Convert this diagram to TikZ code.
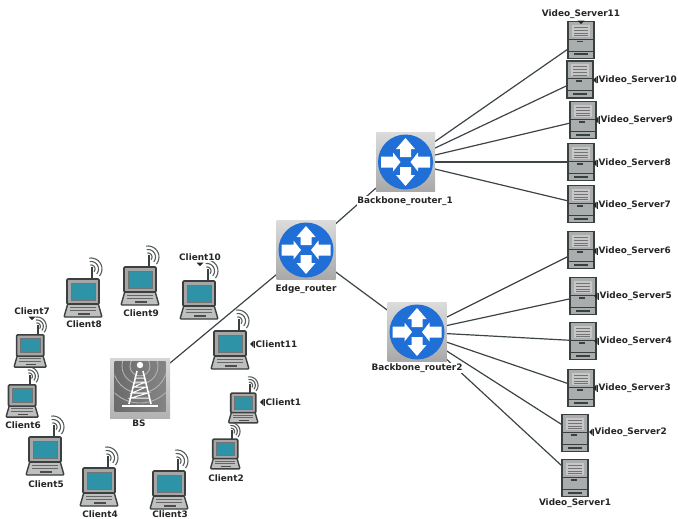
\documentclass[tikz,border=0pt]{standalone}
\usepackage{fontspec}
\setmainfont{DejaVu Sans}
\definecolor{rblue}{HTML}{1F6FD6}
\definecolor{rline}{HTML}{3C4448}
\definecolor{sdark}{HTML}{3A3F40}
\definecolor{sgray}{HTML}{A9ADAE}
\definecolor{teal1}{HTML}{2F93A8}
\tikzset{
  x=1pt,y=-1pt,
  lab/.style={font=\bfseries\fontsize{8.9}{10}\selectfont,text=black!85,inner sep=0.5pt,fill=white},
  link/.style={draw=rline,line width=1.2pt},
  routerbox/.style={minimum width=59pt,minimum height=59pt,inner sep=0,outer sep=0},
  serverbox/.style={minimum width=26pt,minimum height=37pt,inner sep=0,outer sep=0},
  lapbox/.style={minimum width=38pt,minimum height=40pt,inner sep=0,outer sep=0},
  tick/.style={fill=black!85},
  router/.pic={
    \shade[top color=black!14,bottom color=black!34] (-29.5,-29.5) rectangle (29.5,29.5);
    \fill[rblue] (0,0) circle[radius=27.5pt];
    \foreach \r in {0,180}{
      \fill[white,rotate=\r] (0,-24) -- (9.5,-13) -- (5.5,-13) -- (5.5,-5) -- (-5.5,-5) -- (-5.5,-13) -- (-9.5,-13) -- cycle;
      \fill[white,rotate=\r] (-24.5,-5.5) -- (-12.5,-5.5) -- (-12.5,-9.5) -- (-5,0) -- (-12.5,9.5) -- (-12.5,5.5) -- (-24.5,5.5) -- cycle;
    }
  },
  server/.pic={
    \fill[sgray] (-13,-18.5) rectangle (13,18.5);
    \fill[black!22] (-9,-15) rectangle (9,-3);
    \foreach \yy in {-13,-10,-7,-4.5}{\draw[black!55,line width=.7pt] (-7,\yy) -- (7,\yy);}
    \draw[sdark,line width=.8pt] (-12,-1) -- (12,-1);
    \fill[sdark] (-4,1) rectangle (2,2.5);
    \draw[sdark,line width=.8pt] (-12,11) -- (12,11);
    \fill[sdark] (-7,13.5) rectangle (7,15.5);
    \draw[sdark,line width=1.8pt] (-13,-18.5) rectangle (13,18.5);
  },
  laptop/.pic={
    \fill[black!25,draw=sdark,line width=1.4pt,rounded corners=1pt] (-16,5) -- (-20,19) -- (18,19) -- (14,5) -- cycle;
    \foreach \yy in {9,12}{\draw[black!60,line width=.8pt] (-14,\yy) -- (12,\yy);}
    \fill[black!70] (-6,15) rectangle (6,17);
    \fill[black!35,draw=sdark,line width=1.6pt,rounded corners=1pt] (-17,-19) rectangle (15,6);
    \fill[teal1,draw=black!55,line width=.5pt] (-13,-15) rectangle (11,2);
    \draw[sdark,line width=1.6pt] (8,-19) -- (8,-31);
    \foreach \rr in {4,7.5,11}{
      \draw[sdark!85,line width=1.1pt] plot[domain=-40:100,samples=12] ({7+\rr*cos(\x)},{-29-\rr*sin(\x)});
    }
  },
  tower/.pic={
    \shade[top color=black!16,bottom color=black!30] (-30,-30) rectangle (30,30);
    \shade[left color=black!58,right color=black!48] (-25.5,-27) rectangle (25.5,23);
    \begin{scope}
      \clip (-25.5,-27) rectangle (25.5,23);
      \foreach \rr in {10,18,27,37}{\draw[black!30,line width=.9pt] (0,-22) circle[radius=\rr pt];}
    \end{scope}
    \draw[white,line width=1.6pt,line join=round] (-3,-17) -- (-11,16) (3,-17) -- (11,16);
    \draw[white,line width=1pt] (-4,-10) -- (4,-10) (-5,-6) -- (5,-6) -- (-6,-1) -- (6,-1) -- (-8,5) -- (8,5) -- (-9,10) -- (9,10);
    \fill[white] (0,-23) circle[radius=3.2pt];
    \draw[white,line width=2pt] (-18,18) -- (18,18);
  }
}
\begin{document}
\begin{tikzpicture}
\useasboundingbox (0,0) rectangle (678,519);
% named holders
\node[routerbox] (edge) at (306,250) {};
\node[routerbox] (bra) at (405.5,162) {};
\node[routerbox] (brb) at (417,332) {};
\node[routerbox,minimum width=60pt,minimum height=60pt] (bs) at (140,388) {};
\foreach \n/\xx/\yy in {s11/581/40,s10/580/79.5,s9/583/120,s8/581/162,s7/581/204,s6/581/250,s5/583/296,s4/583/341,s3/581/388,s2/575/433,s1/575/478}{
  \node[serverbox] (\n) at (\xx,\yy) {};
  \pic at (\n) {server};
}
% connectors
\draw[link] (bs) -- (edge);
\draw[link] (edge) -- (bra);
\draw[link] (edge) -- (brb);
\foreach \n in {s7,s8,s9,s10,s11}{\draw[link] (bra) -- (\n);}
\foreach \n in {s1,s2,s3,s4,s5,s6}{\draw[link] (brb) -- (\n);}
% icons
\pic at (edge) {router};
\pic at (bra) {router};
\pic at (brb) {router};
\pic at (bs) {tower};
\foreach \n/\xx/\yy/\sc in {c8/84/298/1,c9/141/286/1,c10/200/300/1,c11/231/350/1,c1/244/408/.78,c2/226/454/.78,c3/170/490/1,c4/100/487/1,c5/46/456/1,c6/23/401/.85,c7/31/351/.85}{
  \node[lapbox,scale=\sc] (\n) at (\xx,\yy) {};
  \pic[scale=\sc] at (\n) {laptop};
}
% labels
\node[lab] (ledge) at (306,289) {Edge\_router};
\node[lab] (lbra) at (405,201) {Backbone\_router\_1};
\node[lab] (lbrb) at (417,368) {Backbone\_router2};
\node[lab] (lbs) at (139,423) {BS};
\node[lab] (ls11) at (581,14) {Video\_Server11};
\node[lab,anchor=west] (ls10) at (598,80) {Video\_Server10};
\node[lab,anchor=west] (ls9) at (600,120) {Video\_Server9};
\node[lab,anchor=west] (ls8) at (598,163) {Video\_Server8};
\node[lab,anchor=west] (ls7) at (598,205) {Video\_Server7};
\node[lab,anchor=west] (ls6) at (598,251) {Video\_Server6};
\node[lab,anchor=west] (ls5) at (599,296) {Video\_Server5};
\node[lab,anchor=west] (ls4) at (599,341) {Video\_Server4};
\node[lab,anchor=west] (ls3) at (598,388) {Video\_Server3};
\node[lab,anchor=west] (ls2) at (594,432) {Video\_Server2};
\node[lab] (ls1) at (575,503) {Video\_Server1};
\node[lab] (lc8) at (84,324) {Client8};
\node[lab] (lc9) at (141,313) {Client9};
\node[lab] (lc10) at (200,257) {Client10};
\node[lab,anchor=west] (lc11) at (255,344) {Client11};
\node[lab,anchor=west] (lc1) at (265,402) {Client1};
\node[lab] (lc2) at (226,478) {Client2};
\node[lab] (lc3) at (170,514) {Client3};
\node[lab] (lc4) at (100,514) {Client4};
\node[lab] (lc5) at (46,484) {Client5};
\node[lab] (lc6) at (23,425) {Client6};
\node[lab] (lc7) at (32,311) {Client7};
% small pointers
\foreach \n in {ls10,ls9,ls8,ls7,ls6,ls5,ls4,ls3,ls2,lc11,lc1}{
  \fill[tick] ([xshift=-5pt]\n.west) -- ++(3.5,-3.5) -- ++(0,7) -- cycle;
  \fill[tick] ([xshift=-1.2pt,yshift=3.5pt]\n.west) rectangle ++(1,7);
}
\foreach \n in {ls11,lc10,lc7}{
  \fill[tick] ([yshift=-5pt]\n.south) -- ++(-3.5,-3.5) -- ++(7,0) -- cycle;
}
\end{tikzpicture}
\end{document}
